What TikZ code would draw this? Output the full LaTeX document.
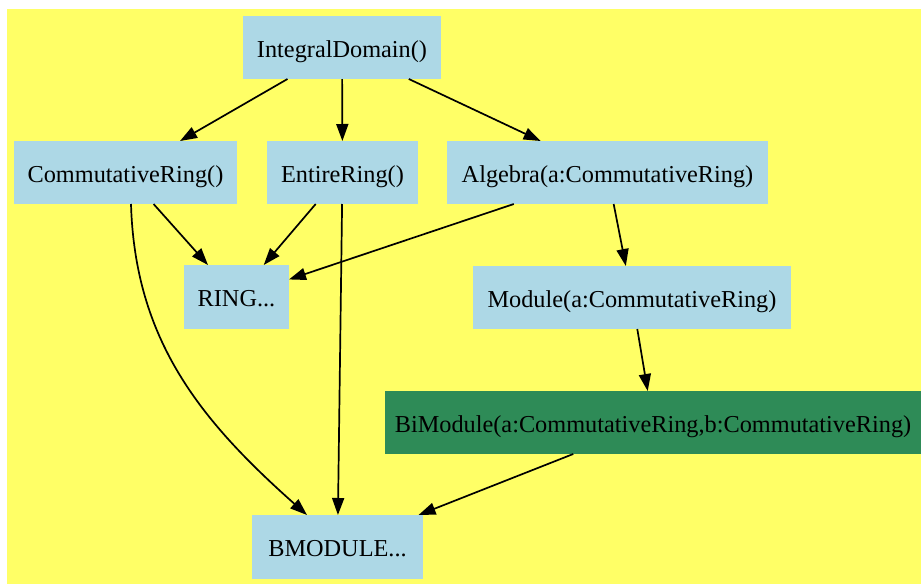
\documentclass[tikz,border=0pt]{standalone}
\usepackage{fontspec}
\setmainfont{Liberation Serif}
\usetikzlibrary{arrows.meta}
\definecolor{bgyellow}{HTML}{FFFF66}
\definecolor{nodeblue}{HTML}{ADD8E6}
\definecolor{nodegreen}{HTML}{2E8B57}
\tikzset{
  box/.style={rectangle, fill=nodeblue, draw=none, inner sep=0pt, outer sep=0pt,
    minimum height=63pt, text height=19pt, text depth=0pt, align=center,
    font=\fontsize{24.3}{28}\selectfont},
  greenbox/.style={box, fill=nodegreen},
  edge/.style={line width=1.7pt, -{Triangle[length=17pt,width=12pt]}}
}
\begin{document}
\begin{tikzpicture}[x=1pt,y=-1pt]
\useasboundingbox (0,0) rectangle (921,584);
\fill[bgyellow] (7,9) rectangle (921,584);
\node[box, minimum width=198pt] (id) at (342,47.5) {IntegralDomain()};
\node[box, minimum width=223pt] (cr) at (125.5,172.5) {CommutativeRing()};
\node[box, minimum width=151pt] (er) at (342.5,172.5) {EntireRing()};
\node[box, minimum width=321pt] (alg) at (607.5,172.5) {Algebra(a:CommutativeRing)};
\node[box, minimum width=105pt, minimum height=64pt] (ring) at (236.5,297) {RING...};
\node[box, minimum width=318pt] (mod) at (632,297.5) {Module(a:CommutativeRing)};
\node[greenbox, minimum width=536pt] (bi) at (653,422.5) {BiModule(a:CommutativeRing,b:CommutativeRing)};
\node[box, minimum width=171pt, minimum height=64pt] (bm) at (337.5,547) {BMODULE...};
\draw[edge] (id) -- (cr);
\draw[edge] (id) -- (er);
\draw[edge] (id) -- (alg);
\draw[edge] (cr) -- (ring);
\draw[edge] (er) -- (ring);
\draw[edge] (alg) -- (ring);
\draw[edge] (alg) -- (mod);
\draw[edge] (mod) -- (bi);
\draw[edge] (er) -- (bm);
\draw[edge] (bi) -- (bm);
\draw[edge] ([xshift=5.5pt]cr.south) .. controls ([xshift=9.5pt,yshift=-136pt]cr.south) and ([xshift=-137.5pt,yshift=95pt]bm.north) .. ([xshift=-30.5pt]bm.north);
\end{tikzpicture}
\end{document}
